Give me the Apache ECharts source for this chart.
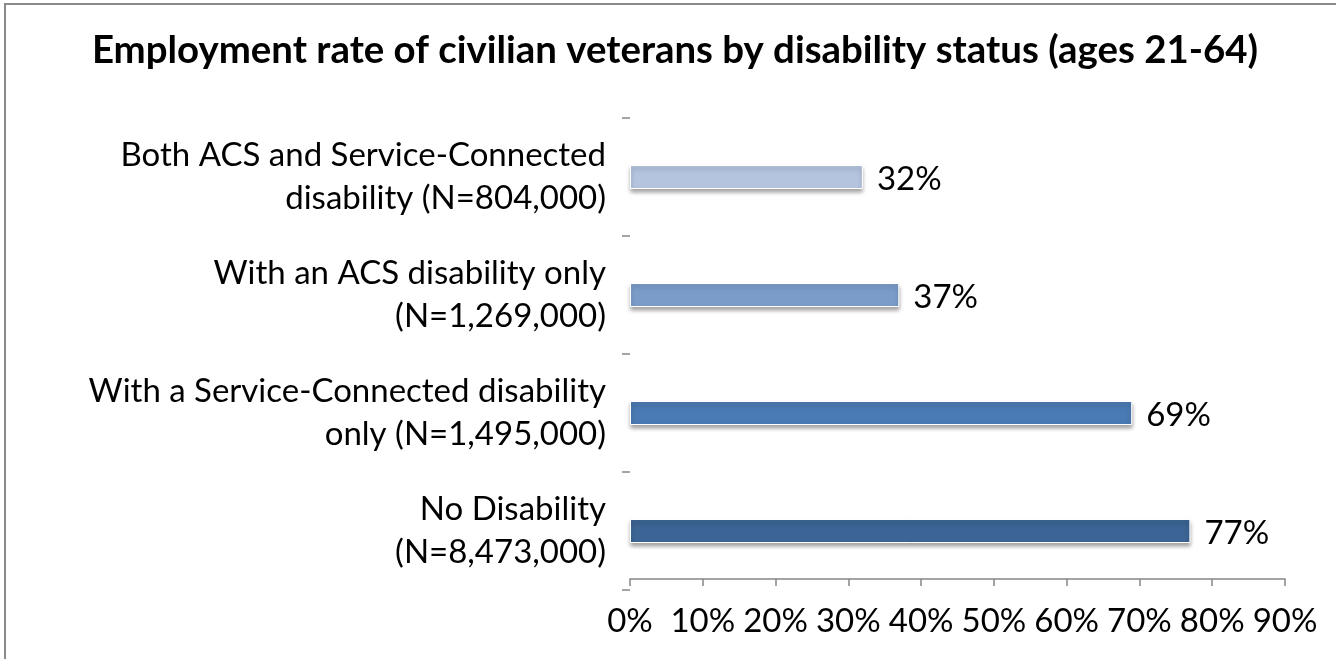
<!DOCTYPE html>
<html>
<head>
<meta charset="utf-8">
<script src="https://cdn.jsdelivr.net/npm/echarts@6/dist/echarts.min.js"></script>
<style>
  html, body { margin: 0; padding: 0; background: #fff; overflow: hidden; }
  #chart { position: absolute; left: 0; top: 0; width: 1336px; height: 659px; }
  #frame { position: absolute; left: 4px; top: 3px; width: 1340px; height: 680px;
           border: 2px solid #8a8a8a; box-sizing: border-box; pointer-events: none; }
</style>
</head>
<body>
<div id="chart"></div>
<div id="frame"></div>
<script>
  // values, listed top to bottom
  const categories = [
    'Both ACS and Service-Connected\ndisability (N=804,000)',
    'With an ACS disability only\n(N=1,269,000)',
    'With a Service-Connected disability\nonly (N=1,495,000)',
    'No Disability\n(N=8,473,000)'
  ]
  const rates = [32, 37, 69, 77]
  const barColors = ['#b4c4df', '#7b9cc9', '#4a7ab3', '#3c6494']
  const xTicks = [0, 10, 20, 30, 40, 50, 60, 70, 80, 90]

  const font = 'Lato, "Open Sans", sans-serif'
  const chart = echarts.init(document.getElementById('chart'))

  const option = {
    animation: false,
    title: {
      text: 'Employment rate of civilian veterans by disability status (ages 21-64)',
      left: 670,
      textAlign: 'center',
      top: 27,
      textStyle: { fontFamily: font, fontSize: 38.4, fontWeight: 'bold', color: '#000' }
    },
    grid: { left: 630, right: 51, top: 118, bottom: 69, containLabel: false },
    xAxis: {
      type: 'value',
      min: xTicks[0],
      max: xTicks[xTicks.length - 1],
      interval: 10,
      offset: -11,
      axisLine: { show: true, lineStyle: { color: '#868686', width: 1.5 } },
      axisTick: { show: true, length: 7, lineStyle: { color: '#868686', width: 1.5 } },
      splitLine: { show: false },
      axisLabel: {
        margin: 26,
        formatter: '{value}%',
        fontFamily: font, fontSize: 33, color: '#000'
      }
    },
    yAxis: {
      type: 'category',
      inverse: true,
      data: categories,
      axisLine: { show: false },
      axisTick: { show: true, length: 8, lineStyle: { color: '#868686', width: 1.5 } },
      axisLabel: {
        margin: 24,
        align: 'right',
        lineHeight: 43,
        fontFamily: font, fontSize: 33, color: '#000'
      }
    },
    series: [{
      type: 'bar',
      barWidth: 24,
      data: rates.map((v, i) => ({
        value: v,
        itemStyle: { color: barColors[i] }
      })),
      itemStyle: {
        borderColor: '#ffffff',
        borderWidth: 1,
        shadowColor: 'rgba(0,0,0,0.35)',
        shadowBlur: 4,
        shadowOffsetY: 3
      },
      label: {
        show: true,
        position: 'right',
        distance: 14,
        offset: [0, 2],
        formatter: '{c}%',
        fontFamily: font, fontSize: 33, color: '#000'
      }
    }]
  }

  chart.setOption(option)
</script>
</body>
</html>
